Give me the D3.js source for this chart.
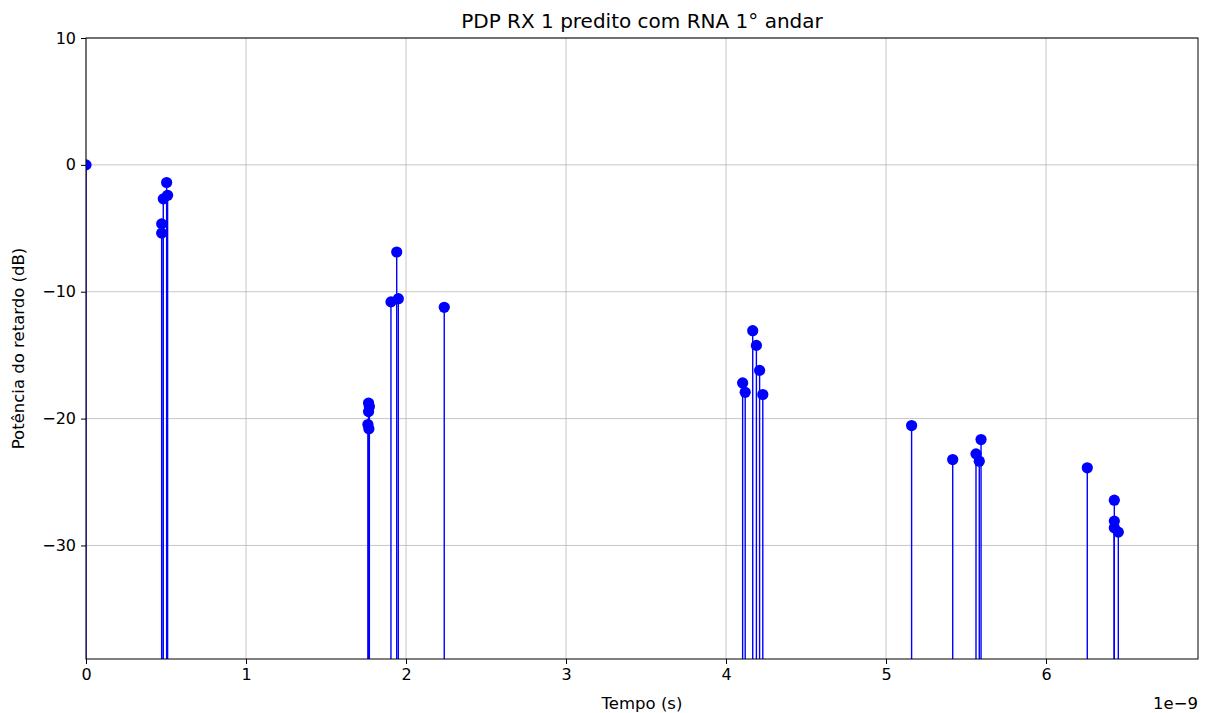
<!DOCTYPE html>
<html>
<head>
<meta charset="utf-8">
<script src="https://cdn.jsdelivr.net/npm/d3@7"></script>
<style>
  body { margin: 0; background: #fff; }
  text { font-family: "DejaVu Sans", sans-serif; fill: #000; }
  .axis path, .axis line { stroke: #000; }
  .axis text { font-size: 16px; }
</style>
</head>
<body>
<svg id="chart"></svg>
<script>
// delays in units of 1e-9 s
const delays = [0, 0.473, 0.473, 0.483, 0.51, 0.504,
  1.766, 1.771, 1.766, 1.762, 1.768, 1.906, 1.942, 1.952, 2.239,
  4.104, 4.12, 4.167, 4.19, 4.21, 4.23,
  5.16, 5.417, 5.5625, 5.583, 5.594,
  6.258, 6.427, 6.427, 6.427, 6.452];
// power in dB
const powers = [0, -5.38, -4.65, -2.68, -2.4, -1.39,
  -18.77, -19.05, -19.45, -20.47, -20.8, -10.8, -6.87, -10.55, -11.23,
  -17.19, -17.93, -13.07, -14.23, -16.2, -18.1,
  -20.55, -23.23, -22.78, -23.36, -21.65,
  -23.88, -26.43, -28.08, -28.6, -28.95];
const xTicks = [0, 1, 2, 3, 4, 5, 6];
const yTicks = [10, 0, -10, -20, -30];

const config = {
  width: 1208, height: 713,
  margin: {top: 38, right: 10, bottom: 54, left: 86}
};

const svg = d3.select('#chart')
  .attr('width', config.width)
  .attr('height', config.height);

const width = config.width - config.margin.left - config.margin.right;
const height = config.height - config.margin.top - config.margin.bottom;

const xScale = d3.scaleLinear().domain([0, 6.95]).range([0, width]);
const yScale = d3.scaleLinear().domain([-38.95, 10]).range([height, 0]);

const chart = svg.append('g')
  .attr('transform', `translate(${config.margin.left},${config.margin.top})`);

chart.append('clipPath').attr('id', 'clip')
  .append('rect').attr('width', width).attr('height', height);

// grid
chart.append('g').selectAll('line').data(xTicks).enter().append('line')
  .attr('x1', d => xScale(d)).attr('x2', d => xScale(d))
  .attr('y1', 0).attr('y2', height)
  .attr('stroke', '#b0b0b0').attr('stroke-width', 1).attr('opacity', 0.7);
chart.append('g').selectAll('line').data(yTicks).enter().append('line')
  .attr('y1', d => yScale(d)).attr('y2', d => yScale(d))
  .attr('x1', 0).attr('x2', width)
  .attr('stroke', '#b0b0b0').attr('stroke-width', 1).attr('opacity', 0.7);

const pts = delays.map((d, i) => ({x: d, y: powers[i]}));

const marks = chart.append('g').attr('clip-path', 'url(#clip)');
marks.selectAll('.stem').data(pts).enter().append('line')
  .attr('class', 'stem')
  .attr('x1', d => xScale(d.x)).attr('x2', d => xScale(d.x))
  .attr('y1', d => yScale(d.y)).attr('y2', yScale(-40))
  .attr('stroke', '#0000ff').attr('stroke-width', 1.4);
marks.selectAll('.dot').data(pts).enter().append('circle')
  .attr('class', 'dot')
  .attr('cx', d => xScale(d.x)).attr('cy', d => yScale(d.y))
  .attr('r', 5.6).attr('fill', '#0000ff');

// axes
const xAxis = d3.axisBottom(xScale).tickValues(xTicks).tickSize(5).tickPadding(5)
  .tickFormat(d3.format('d'));
const yAxis = d3.axisLeft(yScale).tickValues(yTicks).tickSize(5).tickPadding(5)
  .tickFormat(d => d < 0 ? '\u2212' + Math.abs(d) : d);

const xAxisG = chart.append('g').attr('class', 'axis')
  .attr('transform', `translate(0,${height})`).call(xAxis);
const yAxisG = chart.append('g').attr('class', 'axis').call(yAxis);
xAxisG.select('.domain').remove();
yAxisG.select('.domain').remove();
chart.selectAll('.axis text').attr('fill', '#000');

// frame
chart.append('rect').attr('width', width).attr('height', height)
  .attr('fill', 'none').attr('stroke', '#000').attr('stroke-width', 1);

// titles
svg.append('text')
  .attr('x', config.margin.left + width / 2).attr('y', 28)
  .attr('text-anchor', 'middle').attr('font-size', '20px')
  .text('PDP RX 1 predito com RNA 1\u00b0 andar');

svg.append('text')
  .attr('x', config.margin.left + width / 2).attr('y', 709)
  .attr('text-anchor', 'middle').attr('font-size', '16.5px')
  .text('Tempo (s)');

svg.append('text')
  .attr('transform', `translate(24,${config.margin.top + height / 2}) rotate(-90)`)
  .attr('text-anchor', 'middle').attr('font-size', '16.5px')
  .text('Potência do retardo (dB)');

svg.append('text')
  .attr('x', config.margin.left + width).attr('y', 709)
  .attr('text-anchor', 'end').attr('font-size', '16.5px')
  .text('1e\u22129');
</script>
</body>
</html>
